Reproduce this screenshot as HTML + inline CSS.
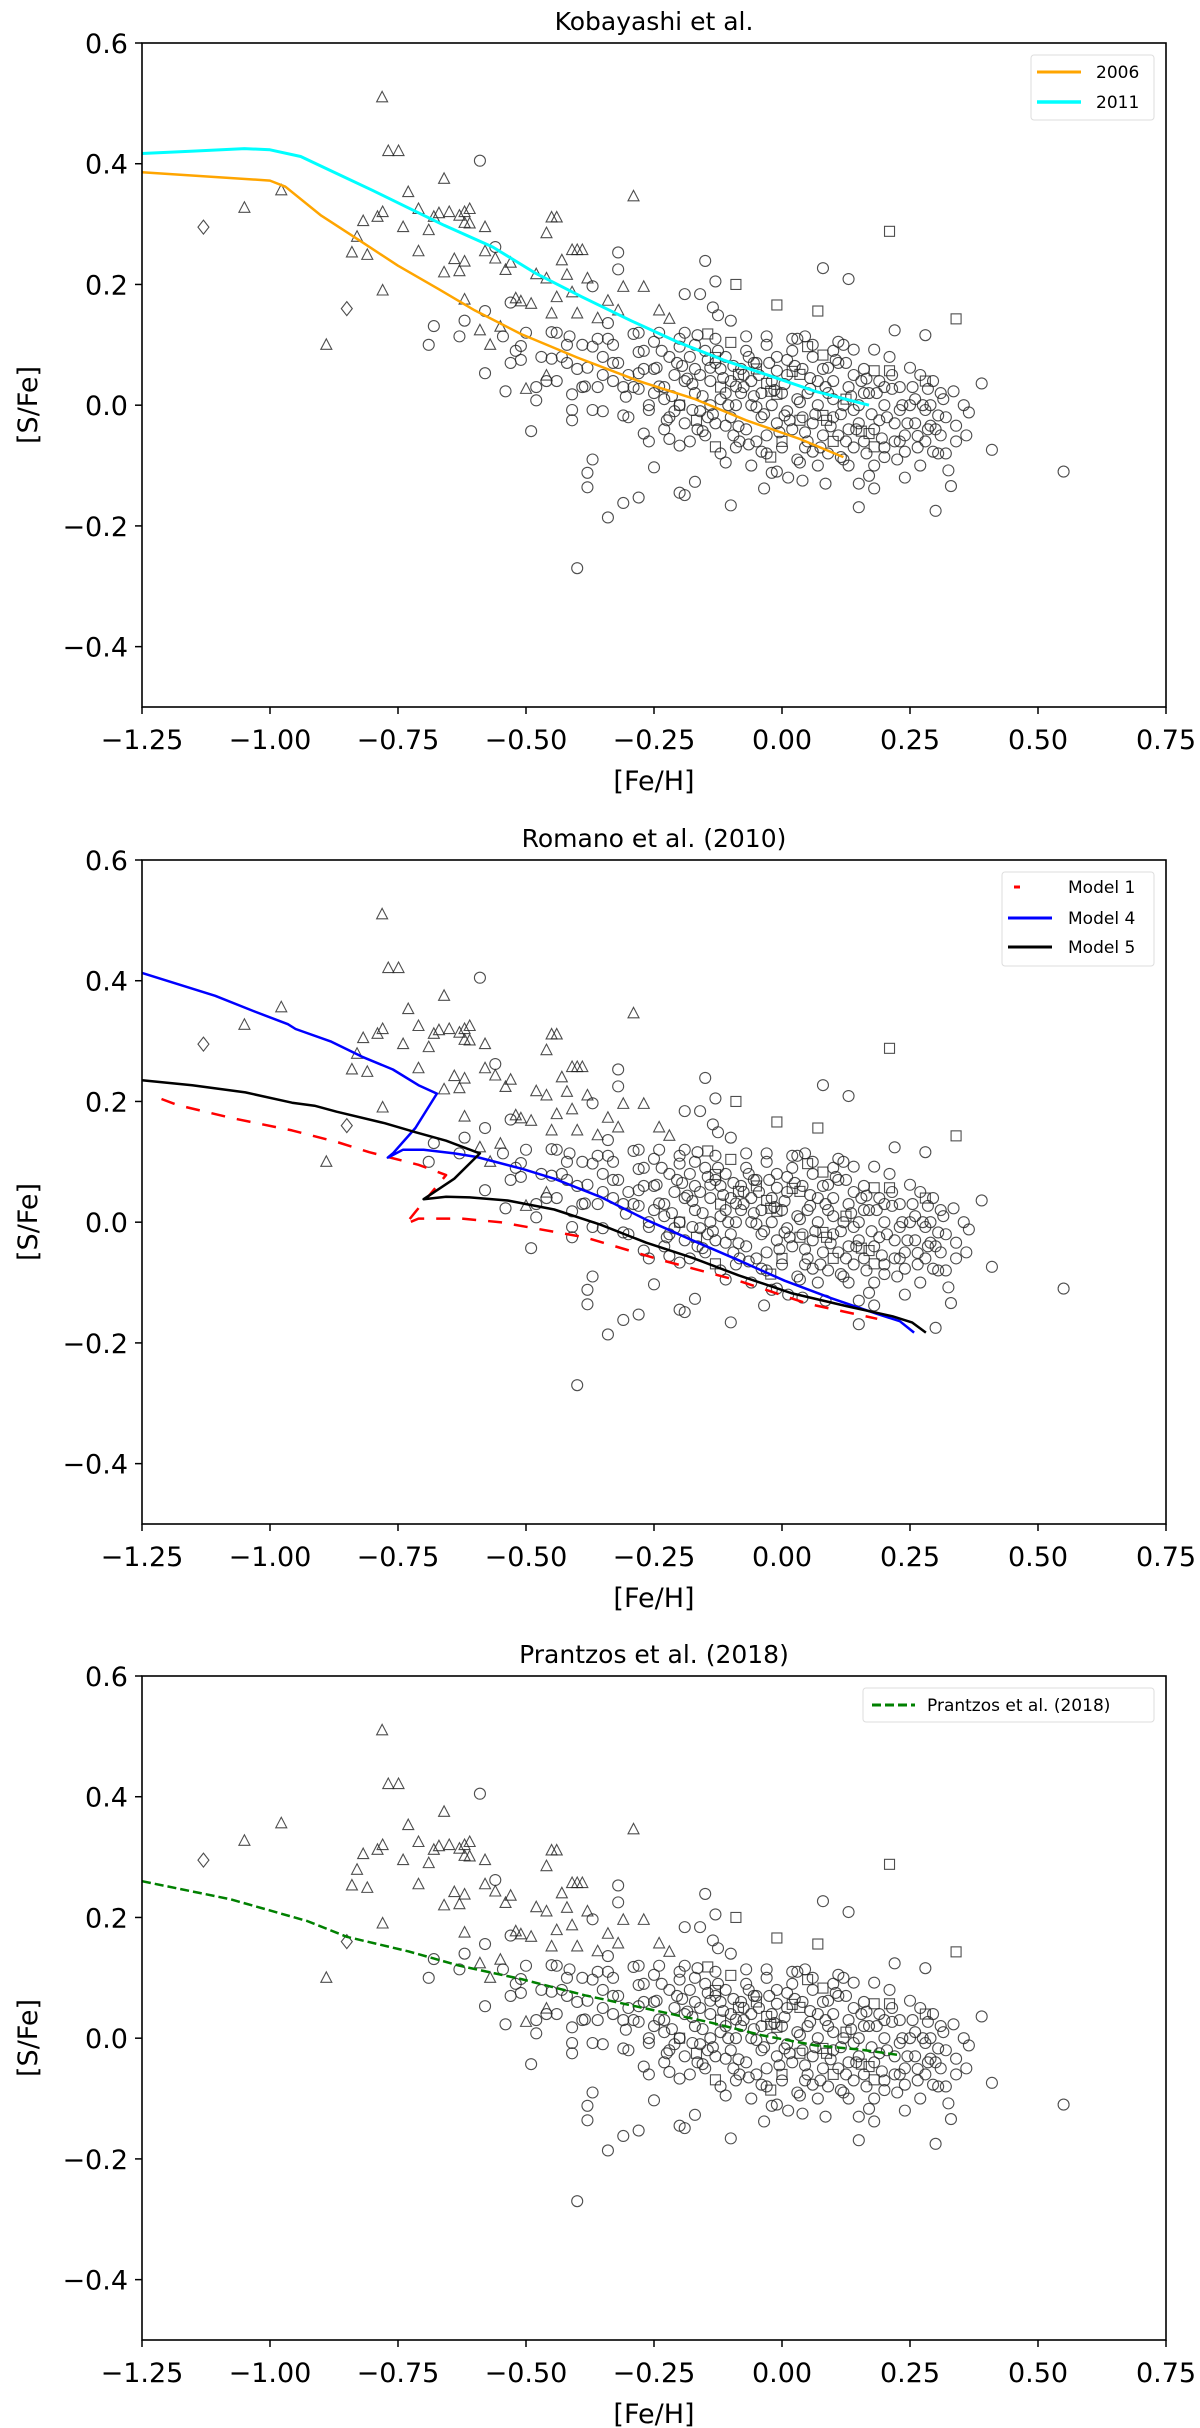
<!DOCTYPE html>
<html><head><meta charset="utf-8"><style>
html,body{margin:0;padding:0;background:#fff}
svg{display:block}
text{font-family:"DejaVu Sans","Liberation Sans",sans-serif;fill:#000}
</style></head><body>
<svg id="fig" width="1200" height="2428" viewBox="0 0 1200 2428" xmlns="http://www.w3.org/2000/svg"></svg>
<script>
const xTicks=[-1.25,-1.00,-0.75,-0.50,-0.25,0.00,0.25,0.50,0.75];
const xTickLabels=["\u22121.25","\u22121.00","\u22120.75","\u22120.50","\u22120.25","0.00","0.25","0.50","0.75"];
const yTicks=[0.6,0.4,0.2,0.0,-0.2,-0.4];
const yTickLabels=["0.6","0.4","0.2","0.0","\u22120.2","\u22120.4"];
const triangles=[[-0.781,0.51],[-0.769,0.421],[-0.749,0.421],[-0.978,0.356],[-1.05,0.327],[-0.73,0.353],[-0.66,0.375],[-0.29,0.346],[-0.818,0.305],[-0.79,0.312],[-0.78,0.32],[-0.83,0.279],[-0.84,0.253],[-0.81,0.249],[-0.74,0.295],[-0.71,0.325],[-0.71,0.255],[-0.69,0.29],[-0.68,0.312],[-0.67,0.318],[-0.65,0.32],[-0.63,0.314],[-0.62,0.32],[-0.61,0.325],[-0.62,0.302],[-0.61,0.301],[-0.58,0.295],[-0.66,0.22],[-0.64,0.242],[-0.63,0.222],[-0.62,0.238],[-0.62,0.175],[-0.58,0.255],[-0.56,0.243],[-0.54,0.224],[-0.53,0.236],[-0.52,0.177],[-0.51,0.172],[-0.49,0.168],[-0.78,0.19],[-0.89,0.1],[-0.46,0.285],[-0.45,0.311],[-0.44,0.311],[-0.48,0.217],[-0.46,0.21],[-0.45,0.152],[-0.44,0.179],[-0.43,0.24],[-0.42,0.216],[-0.41,0.257],[-0.40,0.257],[-0.39,0.257],[-0.41,0.187],[-0.4,0.152],[-0.38,0.21],[-0.36,0.144],[-0.34,0.173],[-0.32,0.157],[-0.31,0.196],[-0.27,0.196],[-0.24,0.157],[-0.22,0.143],[-0.59,0.124],[-0.57,0.1],[-0.55,0.13],[-0.46,0.049],[-0.5,0.027]];
const diamonds=[[-1.13,0.295],[-0.85,0.16]];
const squares=[[0.21,0.288],[-0.09,0.2],[-0.01,0.166],[0.07,0.156],[0.34,0.143],[-0.145,0.118],[-0.1,0.104],[0.05,0.097],[0.08,0.083],[-0.13,0.079],[-0.085,0.051],[0.02,0.056],[0.035,0.051],[0.18,0.057],[0.21,0.057],[0.28,0.04],[-0.03,0.036],[-0.022,0.023],[-0.01,0.018],[0.08,-0.017],[0.087,-0.025],[0.125,0.01],[0.155,-0.043],[-0.13,-0.069],[-0.022,-0.086],[0.035,-0.025],[0.18,-0.069],[0.17,-0.047],[-0.167,-0.025],[-0.2,0.0],[-0.05,0.06],[0.0,-0.06],[-0.12,0.03],[0.1,-0.06]];
const circles=[[-0.59,0.405],[-0.32,0.253],[-0.32,0.225],[-0.15,0.239],[0.08,0.227],[0.13,0.209],[-0.13,0.205],[0.22,0.124],[0.28,0.116],[0.39,0.036],[0.41,-0.074],[0.55,-0.11],[0.30,-0.175],[-0.4,-0.27],[-0.34,-0.186],[-0.31,-0.162],[-0.28,-0.153],[-0.25,-0.103],[-0.20,-0.145],[-0.19,-0.149],[-0.17,-0.127],[-0.1,-0.166],[-0.37,-0.09],[-0.38,-0.112],[-0.38,-0.136],[-0.49,-0.043],[-0.54,0.023],[-0.58,0.053],[-0.69,0.1],[-0.68,0.131],[-0.63,0.114],[-0.62,0.14],[-0.58,0.156],[-0.56,0.262],[-0.53,0.17],[-0.545,0.114],[-0.51,0.098],[-0.51,0.075],[-0.53,0.07],[-0.48,0.03],[-0.48,0.008],[-0.45,0.077],[-0.45,0.121],[-0.415,0.114],[-0.42,0.07],[-0.41,0.018],[-0.41,-0.025],[-0.41,-0.008],[-0.385,0.031],[-0.38,0.062],[-0.37,0.097],[-0.37,0.197],[-0.37,-0.008],[-0.36,0.11],[-0.34,0.136],[-0.33,0.07],[-0.31,-0.017],[-0.305,0.014],[-0.29,0.118],[-0.28,0.088],[-0.28,0.053],[-0.28,0.027],[-0.27,-0.047],[-0.26,-0.008],[-0.25,0.105],[-0.245,0.062],[-0.24,0.031],[-0.23,0.01],[-0.225,-0.025],[-0.22,-0.056],[-0.205,0.07],[-0.2,0.097],[-0.2,-0.067],[-0.19,0.184],[-0.185,0.044],[-0.175,-0.008],[-0.165,0.116],[-0.16,0.184],[-0.155,-0.043],[-0.14,0.062],[-0.135,0.162],[-0.125,0.149],[-0.12,0.01],[-0.11,-0.034],[-0.11,-0.095],[-0.1,0.14],[-0.09,0.031],[-0.083,-0.06],[-0.07,0.114],[-0.055,0.07],[-0.05,-0.003],[-0.04,-0.077],[-0.035,-0.138],[-0.03,0.114],[-0.02,-0.112],[-0.01,0.057],[0.005,-0.017],[0.012,-0.12],[0.02,0.11],[0.035,-0.095],[0.04,-0.125],[0.045,0.114],[0.055,0.027],[0.06,-0.077],[0.085,-0.13],[0.09,0.062],[0.1,0.01],[0.11,0.105],[0.115,-0.086],[0.125,0.07],[0.14,-0.008],[0.14,0.092],[0.15,-0.13],[0.15,-0.169],[0.165,0.044],[0.17,-0.117],[0.18,-0.138],[0.18,0.092],[0.19,-0.025],[0.2,-0.086],[0.215,0.027],[0.22,-0.06],[0.23,-0.008],[0.24,-0.12],[0.24,-0.077],[0.25,0.062],[0.26,0.01],[0.265,-0.051],[0.27,-0.1],[0.28,-0.008],[0.285,0.027],[0.29,-0.034],[0.295,-0.077],[0.305,-0.017],[0.31,-0.05],[0.315,0.01],[0.325,-0.108],[0.33,-0.134],[0.335,0.023],[0.34,-0.034],[0.355,0.0],[0.36,-0.05],[0.365,-0.012],
[-0.3,0.05],[-0.29,0.03],[-0.27,0.09],[-0.26,0.0],[-0.25,0.06],[-0.24,0.12],[-0.23,0.03],[-0.22,0.08],[-0.22,-0.02],[-0.21,0.05],[-0.2,0.0],[-0.2,0.11],[-0.19,-0.03],[-0.19,0.04],[-0.18,0.08],[-0.18,-0.06],[-0.17,0.02],[-0.17,0.1],[-0.16,-0.01],[-0.16,0.05],[-0.15,0.09],[-0.15,-0.05],[-0.14,0.0],[-0.14,0.04],[-0.13,0.11],[-0.13,-0.03],[-0.12,0.06],[-0.12,-0.08],[-0.11,0.02],[-0.11,0.08],[-0.1,-0.02],[-0.1,0.04],[-0.09,0.0],[-0.09,-0.07],[-0.08,0.06],[-0.08,0.02],[-0.07,-0.04],[-0.07,0.09],[-0.06,0.0],[-0.06,0.04],[-0.05,-0.06],[-0.05,0.07],[-0.04,0.02],[-0.04,-0.02],[-0.03,0.1],[-0.03,-0.05],[-0.02,0.04],[-0.02,0.0],[-0.01,-0.03],[-0.01,0.08],[0.0,0.02],[0.0,-0.07],[0.01,0.05],[0.01,-0.01],[0.02,0.09],[0.02,-0.04],[0.03,0.01],[0.03,-0.09],[0.04,0.06],[0.04,-0.02],[0.05,0.02],[0.05,-0.06],[0.06,0.08],[0.06,-0.03],[0.07,0.04],[0.07,0.0],[0.08,-0.05],[0.08,0.06],[0.09,0.02],[0.09,-0.08],[0.1,0.04],[0.1,-0.02],[0.11,-0.05],[0.11,0.07],[0.12,0.0],[0.12,-0.09],[0.13,0.03],[0.13,-0.04],[0.14,0.05],[0.14,-0.07],[0.15,0.0],[0.15,-0.03],[0.16,0.06],[0.16,-0.06],[0.17,0.02],[0.18,-0.04],[0.19,0.04],[0.2,-0.07],[0.2,0.0],[0.21,0.08],[0.22,-0.03],[0.23,0.03],[0.24,-0.05],[0.25,0.0],[0.26,-0.03],[0.27,0.05],[0.28,-0.06],[0.29,0.0],[0.3,-0.04],[0.31,0.02],[0.32,-0.08],[-0.35,0.08],[-0.34,0.11],[-0.33,0.04],[-0.32,0.07],[-0.36,0.03],[-0.4,0.06],[-0.39,0.1],[-0.43,0.08],[-0.44,0.12],[-0.47,0.08],[-0.46,0.04],[-0.5,0.12],[-0.52,0.09],[-0.35,-0.01],[-0.3,-0.02],[-0.28,0.12],[-0.06,-0.1],[0.07,-0.1],[0.18,-0.1],[-0.01,-0.11],[0.03,0.11],[-0.13,0.07],[0.12,0.1],[-0.26,-0.06],[-0.23,-0.04],
[-0.215,0.015],[-0.195,0.065],[-0.175,0.035],[-0.155,0.015],[-0.145,0.075],[-0.135,-0.015],[-0.115,0.045],[-0.105,0.0],[-0.095,0.065],[-0.085,-0.035],[-0.075,0.03],[-0.065,-0.065],[-0.055,0.015],[-0.045,0.05],[-0.035,-0.015],[-0.025,0.07],[-0.015,0.025],[-0.005,-0.045],[0.005,0.035],[0.015,-0.025],[0.025,0.065],[0.035,0.005],[0.045,-0.045],[0.055,0.045],[0.065,-0.015],[0.075,-0.07],[0.085,0.03],[0.095,-0.035],[0.105,0.075],[0.115,-0.015],[0.125,-0.06],[0.135,0.015],[0.145,-0.04],[0.155,0.04],[0.165,-0.08],[0.175,-0.015],[0.185,0.02],[0.195,-0.055],[0.205,-0.02],[0.215,0.05],[0.225,-0.09],[0.235,0.0],[0.245,-0.03],[0.255,0.03],[0.265,-0.07],[0.275,0.0],[0.285,-0.04],[0.295,0.04],[0.305,-0.08],[0.32,-0.02],[0.34,-0.06],[-0.33,0.1],[-0.31,0.03],[-0.27,0.06],[-0.25,0.02],[-0.235,0.09],[-0.21,-0.01],[-0.19,0.12],[-0.17,0.06],[-0.165,-0.04],[-0.145,-0.02],[-0.125,0.09],[-0.095,-0.05],[-0.075,0.05],[-0.065,0.08],[-0.03,-0.08],[0.01,0.075],[0.045,-0.07],[0.06,0.1],[0.1,0.09],[0.13,-0.1],[0.16,0.02],[0.2,0.03],[0.23,-0.06],[-0.44,0.04],[-0.39,0.03],[-0.35,0.05],[-0.42,0.1]];
const kob2006=[[-1.25,0.386],[-1.0,0.372],[-0.97,0.362],[-0.9,0.314],[-0.82,0.27],[-0.75,0.231],[-0.67,0.192],[-0.6,0.157],[-0.51,0.118],[-0.4,0.079],[-0.28,0.04],[-0.17,0.01],[-0.07,-0.025],[0.035,-0.056],[0.12,-0.086]];
const kob2011=[[-1.25,0.417],[-1.15,0.421],[-1.05,0.425],[-1.0,0.423],[-0.94,0.412],[-0.88,0.388],[-0.8,0.356],[-0.73,0.327],[-0.66,0.298],[-0.565,0.262],[-0.48,0.218],[-0.39,0.179],[-0.295,0.14],[-0.205,0.105],[-0.115,0.075],[-0.025,0.049],[0.065,0.023],[0.17,0.0]];
const model4=[[-1.25,0.413],[-1.107,0.375],[-1.03,0.349],[-0.965,0.328],[-0.95,0.32],[-0.88,0.299],[-0.82,0.274],[-0.76,0.253],[-0.71,0.227],[-0.674,0.213],[-0.716,0.156],[-0.76,0.114],[-0.77,0.107],[-0.74,0.12],[-0.7,0.12],[-0.64,0.114],[-0.596,0.108],[-0.506,0.088],[-0.445,0.072],[-0.355,0.042],[-0.265,0.004],[-0.175,-0.03],[-0.085,-0.063],[0.005,-0.097],[0.096,-0.126],[0.186,-0.152],[0.23,-0.164],[0.258,-0.183]];
const model5=[[-1.25,0.235],[-1.152,0.227],[-1.048,0.215],[-0.957,0.198],[-0.913,0.193],[-0.87,0.183],[-0.776,0.164],[-0.716,0.149],[-0.656,0.135],[-0.59,0.114],[-0.64,0.072],[-0.7,0.038],[-0.656,0.042],[-0.61,0.041],[-0.536,0.036],[-0.445,0.021],[-0.355,-0.004],[-0.265,-0.034],[-0.175,-0.059],[-0.085,-0.088],[0.02,-0.118],[0.126,-0.139],[0.216,-0.156],[0.254,-0.166],[0.281,-0.183]];
const model1=[[-1.212,0.204],[-1.18,0.194],[-1.077,0.173],[-0.957,0.152],[-0.866,0.132],[-0.806,0.116],[-0.71,0.095],[-0.656,0.078],[-0.716,0.017],[-0.735,-0.003],[-0.71,0.006],[-0.626,0.006],[-0.55,0.0],[-0.385,-0.025],[-0.235,-0.063],[-0.085,-0.097],[0.05,-0.135],[0.186,-0.16]];
const prantzos=[[-1.25,0.26],[-1.077,0.23],[-0.927,0.194],[-0.85,0.168],[-0.73,0.144],[-0.63,0.12],[-0.51,0.098],[-0.385,0.071],[-0.265,0.049],[-0.145,0.027],[-0.04,0.005],[0.065,-0.012],[0.155,-0.019],[0.23,-0.028]];

const NS="http://www.w3.org/2000/svg";
const svg=document.getElementById('fig');
const X0=142,X1=1166,H=664;
function mk(tag,attrs,parent){const e=document.createElementNS(NS,tag);for(const k in attrs)e.setAttribute(k,attrs[k]);(parent||svg).appendChild(e);return e;}
function xs(v){return X0+(v+1.25)/2.0*(X1-X0);}
function ysF(top){return v=>top+(0.6-v)/1.1*H;}

const panels=[
 {top:43,title:"Kobayashi et al.",name:"kobayashi-panel",
  series:[{d:kob2006,c:"#ffa500",w:2.5,dash:null,label:"2006",n:"line-2006"},{d:kob2011,c:"#00ffff",w:3,dash:null,label:"2011",n:"line-2011"}],
  legend:{x:1031,y:55,w:123,h:65,lineX:1037,lineW:44,textX:1096,rows:[72,102]}},
 {top:860,title:"Romano et al. (2010)",name:"romano-panel",
  series:[{d:model1,c:"#ff0000",w:2.5,dash:"14 12",label:"Model 1",n:"line-model-1"},{d:model4,c:"#0000ff",w:2.5,dash:null,label:"Model 4",n:"line-model-4"},{d:model5,c:"#000000",w:2.5,dash:null,label:"Model 5",n:"line-model-5"}],
  legend:{x:1002,y:872,w:152,h:94,lineX:1008,lineW:44,textX:1068,rows:[887,918,947],legDash:["6 40",null,null]}},
 {top:1676,title:"Prantzos et al. (2018)",name:"prantzos-panel",
  series:[{d:prantzos,c:"#008000",w:2.5,dash:"9 4",label:"Prantzos et al. (2018)",n:"line-prantzos-2018"}],
  legend:{x:863,y:1688,w:291,h:34,lineX:872,lineW:43,textX:927,rows:[1705]}}
];

panels.forEach(p=>{
 const g=mk('g',{});  
 const ys=ysF(p.top), bot=p.top+H;
 const t=mk('text',{x:(X0+X1)/2,y:p.top-13,'text-anchor':'middle','font-size':25},g); t.textContent=p.title;
  
 const sg=mk('g',{fill:'none',stroke:'#222','stroke-width':1.1,'stroke-opacity':0.8},g);
  
 circles.forEach(c=>{const e=mk('circle',{cx:xs(c[0]),cy:ys(c[1]),r:5.5},sg);
   });
 squares.forEach(c=>{const e=mk('rect',{x:xs(c[0])-5,y:ys(c[1])-5,width:10,height:10},sg);
   });
 triangles.forEach(c=>{const x=xs(c[0]),y=ys(c[1]);const e=mk('path',{d:`M${x},${y-6}L${x+5.5},${y+4.5}L${x-5.5},${y+4.5}Z`},sg);
   });
 diamonds.forEach(c=>{const x=xs(c[0]),y=ys(c[1]);const e=mk('path',{d:`M${x},${y-7}L${x+5.5},${y}L${x},${y+7}L${x-5.5},${y}Z`},sg);
   });
 p.series.forEach(s=>{
  const a={d:'M'+s.d.map(q=>xs(q[0]).toFixed(1)+','+ys(q[1]).toFixed(1)).join('L'),fill:'none',stroke:s.c,'stroke-width':s.w,'stroke-linejoin':'round'};
  if(s.dash)a['stroke-dasharray']=s.dash;
  const e=mk('path',a,g);  
 });
 const fr=mk('rect',{x:X0,y:p.top,width:X1-X0,height:H,fill:'none',stroke:'#000','stroke-width':1.6},g);
  
 xTicks.forEach((v,i)=>{const x=xs(v);mk('line',{x1:x,x2:x,y1:bot,y2:bot+7,stroke:'#000','stroke-width':1.5},g);
  const tl=mk('text',{x:x,y:bot+42,'text-anchor':'middle','font-size':27},g); tl.textContent=xTickLabels[i];
   });
 yTicks.forEach((v,i)=>{const y=ys(v);mk('line',{x1:X0-7,x2:X0,y1:y,y2:y,stroke:'#000','stroke-width':1.5},g);
  const tl=mk('text',{x:X0-14,y:y+10,'text-anchor':'end','font-size':27},g); tl.textContent=yTickLabels[i];
   });
 const xl=mk('text',{x:(X0+X1)/2,y:bot+83,'text-anchor':'middle','font-size':27},g); xl.textContent='[Fe/H]';
  
 const yc=p.top+H/2+30;
 const yl=mk('text',{x:37,y:yc,'text-anchor':'middle','font-size':27,transform:`rotate(-90 37 ${yc})`},g); yl.textContent='[S/Fe]';
  
 const L=p.legend;
 const lg=mk('g',{},g);  
 mk('rect',{x:L.x,y:L.y,width:L.w,height:L.h,rx:3,fill:'#fff','fill-opacity':0.85,stroke:'#ddd','stroke-width':1},lg);
 p.series.forEach((s,i)=>{const y=L.rows[i];
  const la={x1:L.lineX,x2:L.lineX+L.lineW,y1:y,y2:y,stroke:s.c,'stroke-width':s.w+0.5};
  const ld=L.legDash?L.legDash[i]:s.dash; if(ld)la['stroke-dasharray']=ld;
  if(L.legDash&&L.legDash[i]){la.x1=L.lineX+6;}
  mk('line',la,lg);
  const tx=mk('text',{x:L.textX,y:y+6,'font-size':17},lg); tx.textContent=s.label;
   });
});
</script>
</body></html>
